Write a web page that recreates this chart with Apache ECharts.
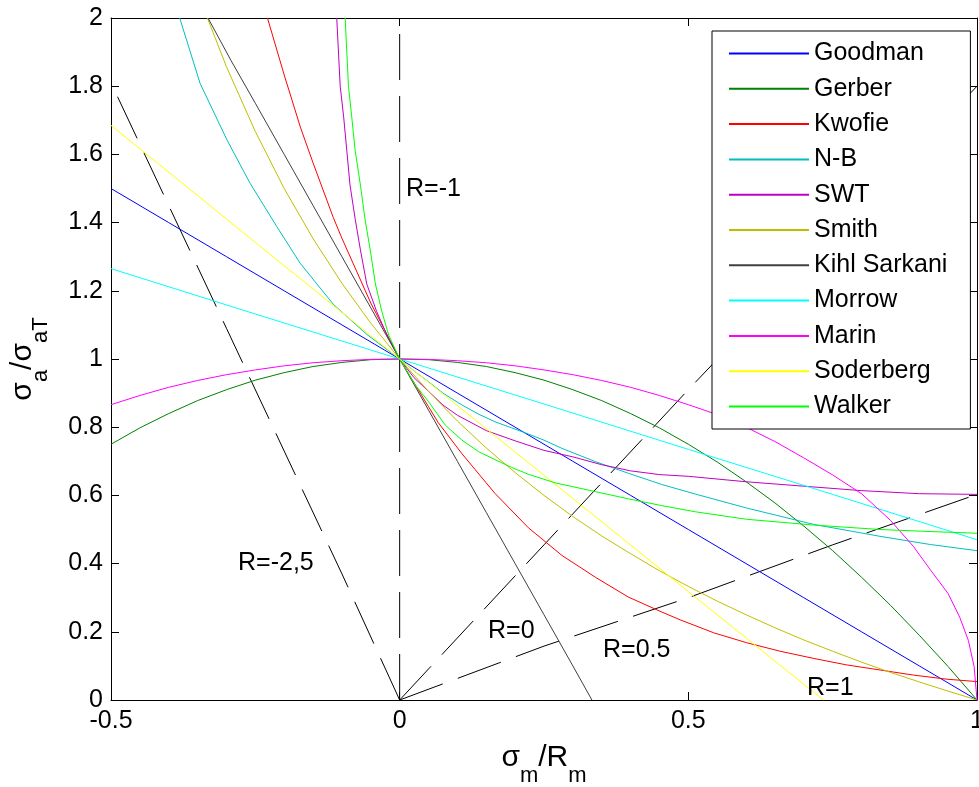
<!DOCTYPE html>
<html><head><meta charset="utf-8">
<script src="https://cdn.jsdelivr.net/npm/echarts@6/dist/echarts.min.js"></script>
<style>html,body{margin:0;padding:0;background:#fff}#c{width:979px;height:787px}</style>
</head><body><div id="c"></div>
<script>
// ---- data (x = sigma_m/R_m, y = sigma_a/sigma_aT) ----
const goodman = [[-0.5,1.5],[-0.4,1.4],[-0.3,1.3],[-0.2,1.2],[-0.1,1.1],[0,1],[0.1,0.9],[0.2,0.8],[0.3,0.7],[0.4,0.6],[0.5,0.5],[0.6,0.4],[0.7,0.3],[0.8,0.2],[0.9,0.1],[1,0]];
const gerber = [[-0.5,0.75],[-0.45,0.798],[-0.4,0.84],[-0.35,0.878],[-0.3,0.91],[-0.25,0.938],[-0.2,0.96],[-0.15,0.978],[-0.1,0.99],[-0.05,0.998],[0,1],[0.05,0.998],[0.1,0.99],[0.15,0.978],[0.2,0.96],[0.25,0.938],[0.3,0.91],[0.35,0.878],[0.4,0.84],[0.45,0.798],[0.5,0.75],[0.55,0.698],[0.6,0.64],[0.65,0.578],[0.7,0.51],[0.75,0.438],[0.8,0.36],[0.85,0.278],[0.9,0.19],[0.95,0.098],[1,0]];
const kwofie = [[-0.229,2.0],[-0.2,1.833],[-0.172,1.68],[-0.15,1.575],[-0.115,1.415],[-0.1,1.354],[-0.05,1.164],[0,1],[0.05,0.86],[0.067,0.813],[0.108,0.722],[0.165,0.606],[0.223,0.505],[0.281,0.424],[0.339,0.36],[0.396,0.302],[0.454,0.258],[0.486,0.235],[0.544,0.197],[0.601,0.168],[0.659,0.143],[0.717,0.122],[0.774,0.103],[0.832,0.088],[0.89,0.073],[0.948,0.061],[1,0.054]];
const nb = [[-0.381,2.0],[-0.3456,1.808],[-0.299,1.642],[-0.259,1.515],[-0.2127,1.388],[-0.1724,1.281],[-0.1147,1.16],[-0.0568,1.072],[0,1],[0.025,0.965],[0.05,0.933],[0.075,0.9],[0.108,0.865],[0.137,0.838],[0.165,0.816],[0.194,0.798],[0.223,0.78],[0.25,0.762],[0.281,0.738],[0.339,0.699],[0.396,0.665],[0.454,0.632],[0.512,0.604],[0.601,0.563],[0.717,0.515],[0.832,0.48],[0.919,0.456],[1,0.438]];
const swt = [[-0.109,2.0],[-0.103,1.8],[-0.097,1.71],[-0.0915,1.61],[-0.086,1.51],[-0.077,1.41],[-0.068,1.32],[-0.057,1.22],[-0.04,1.14],[-0.022,1.07],[0,1],[0.025,0.945],[0.05,0.905],[0.075,0.865],[0.1,0.835],[0.15,0.79],[0.2,0.76],[0.25,0.732],[0.3,0.713],[0.35,0.69],[0.4,0.672],[0.45,0.661],[0.5,0.656],[0.6,0.64],[0.7,0.627],[0.8,0.614],[0.9,0.605],[1,0.603]];
const smith = [[-0.333,2.0],[-0.3,1.857],[-0.25,1.667],[-0.2,1.5],[-0.15,1.353],[-0.1,1.222],[-0.05,1.105],[0,1],[0.05,0.905],[0.1,0.818],[0.15,0.739],[0.2,0.667],[0.25,0.6],[0.3,0.538],[0.35,0.481],[0.4,0.429],[0.45,0.379],[0.5,0.333],[0.55,0.29],[0.6,0.25],[0.65,0.212],[0.7,0.176],[0.75,0.143],[0.8,0.111],[0.85,0.081],[0.9,0.053],[0.95,0.026],[1,0]];
const kihlSarkani = [[-0.332,2.0],[-0.292,1.875],[-0.25,1.75],[-0.2,1.6],[-0.15,1.45],[-0.1,1.3],[-0.05,1.15],[0,1],[0.05,0.85],[0.1,0.7],[0.15,0.55],[0.2,0.4],[0.25,0.25],[0.3,0.1],[0.333,0]];
const morrow = [[-0.5,1.265],[-0.25,1.132],[0,1],[0.25,0.868],[0.5,0.735],[0.75,0.603],[1,0.47]];
const marin = [[-0.5,0.866],[-0.45,0.893],[-0.4,0.917],[-0.35,0.937],[-0.3,0.954],[-0.25,0.968],[-0.2,0.98],[-0.15,0.989],[-0.1,0.995],[-0.05,0.999],[0,1],[0.05,0.999],[0.1,0.995],[0.15,0.989],[0.2,0.98],[0.25,0.968],[0.3,0.954],[0.35,0.937],[0.4,0.917],[0.45,0.893],[0.5,0.866],[0.55,0.837],[0.6,0.8],[0.65,0.758],[0.7,0.71],[0.75,0.66],[0.8,0.605],[0.85,0.527],[0.89,0.45],[0.92,0.38],[0.95,0.312],[0.97,0.243],[0.985,0.175],[0.995,0.098],[1,0]];
const soderberg = [[-0.5,1.685],[-0.25,1.342],[0,1],[0.25,0.659],[0.5,0.318],[0.734,0]];
const walker = [[-0.0944,2.0],[-0.0887,1.8],[-0.083,1.71],[-0.077,1.61],[-0.068,1.51],[-0.06,1.41],[-0.051,1.32],[-0.042,1.22],[-0.031,1.14],[-0.019,1.07],[0,1],[0.027,0.924],[0.05,0.875],[0.079,0.806],[0.108,0.762],[0.137,0.728],[0.165,0.705],[0.194,0.682],[0.223,0.662],[0.269,0.637],[0.339,0.611],[0.396,0.59],[0.454,0.57],[0.512,0.552],[0.601,0.53],[0.717,0.513],[0.832,0.5],[0.919,0.494],[1,0.489]];

// stress-ratio reference lines
const rMinus1 = [[0,0],[0,2]];
const rMinus25 = [[0,0],[-0.1,0.37],[-0.2,0.73],[-0.3,1.09],[-0.4,1.45],[-0.5,1.81]];
const r0 = [[0,0],[0.25,0.455],[0.5,0.91],[0.75,1.355],[1,1.8]];
const r05 = [[0,0],[0.25,0.158],[0.5,0.3],[0.75,0.455],[1,0.603]];

const seriesNames = ['Goodman','Gerber','Kwofie','N-B','SWT','Smith','Kihl Sarkani','Morrow','Marin','Soderberg','Walker'];
const seriesData = [goodman, gerber, kwofie, nb, swt, smith, kihlSarkani, morrow, marin, soderberg, walker];
const seriesColors = ['#0000FF','#008000','#FF0000','#00BFBF','#BF00BF','#BFBF00','#404040','#00FFFF','#FF00FF','#FFFF00','#00FF00'];
const rLineNames = ['R=-1','R=-2,5','R=0','R=0.5'];
const rLineData = [rMinus1, rMinus25, r0, r05];
const rLabelTexts = ['R=-1','R=-2,5','R=0','R=0.5','R=1'];

const FONT = '"Liberation Sans", Arial, Helvetica, sans-serif';
const chart = echarts.init(document.getElementById('c'), null, {renderer:'canvas'});

const series = [];
rLineData.forEach((d,i)=>{
  series.push({name:rLineNames[i], type:'line', data:d, symbol:'none', silent:true, clip:true,
    lineStyle:{color:'#000', width:1, type:[46,16]}, z:2});
});
seriesData.forEach((d,i)=>{
  series.push({name:seriesNames[i], type:'line', data:d, symbol:'none', silent:true, clip:true,
    color:seriesColors[i], lineStyle:{color:seriesColors[i], width:1}, z:3});
});

const axisCommon = {
  axisLine:{show:true, onZero:false, lineStyle:{color:'#000', width:1}},
  axisTick:{show:true, inside:true, length:8, lineStyle:{color:'#000'}},
  splitLine:{show:false}
};

const rich = {
  m:{fontSize:30, lineHeight:30, padding:[0,0,14,0], fontFamily:FONT, fill:'#000'},
  s:{fontSize:22, lineHeight:22, padding:[22,0,0,0], fontFamily:FONT, fill:'#000'}
};

const rLabelPos = [[406,189],[238,563],[488,631],[603,650],[807,688]];
const graphics = rLabelTexts.map((t,i)=>({type:'text', x:rLabelPos[i][0], y:rLabelPos[i][1], z:20,
  style:{text:t, fontSize:25, fontFamily:FONT, fill:'#000', align:'left', verticalAlign:'middle'}}));
graphics.push({type:'text', x:544, y:764.6, z:20,
  style:{text:'{m|σ}{s|m}{m|/R}{s|m}', rich:rich, align:'center', verticalAlign:'middle'}});
graphics.push({type:'text', x:29.6, y:359, rotation:Math.PI/2, z:20,
  style:{text:'{m|σ}{s|a}{m|/σ}{s|aT}', rich:rich, align:'center', verticalAlign:'middle'}});

chart.setOption({
  animation:false,
  backgroundColor:'#fff',
  grid:{left:111, right:2, top:18, bottom:87, containLabel:false, outerBoundsMode:'none'},
  xAxis:[
    Object.assign({type:'value', min:-0.5, max:1, interval:0.5, position:'bottom',
      axisLabel:{show:true, color:'#000', fontSize:25, fontFamily:FONT, margin:9, showMaxLabel:true, showMinLabel:true}}, axisCommon),
    Object.assign({type:'value', min:-0.5, max:1, interval:0.5, position:'top', axisLabel:{show:false}}, axisCommon)
  ],
  yAxis:[
    Object.assign({type:'value', min:0, max:2, interval:0.2, position:'left',
      axisLabel:{show:true, color:'#000', fontSize:25, fontFamily:FONT, margin:8}}, axisCommon),
    Object.assign({type:'value', min:0, max:2, interval:0.2, position:'right', axisLabel:{show:false}}, axisCommon)
  ],
  legend:{data:seriesNames, orient:'vertical', left:712, top:31, padding:[10,23,10,17], itemGap:10.3,
    itemWidth:80, itemHeight:2, icon:'rect', borderColor:'#000', borderWidth:1, backgroundColor:'#fff',
    selectedMode:false, z:10,
    textStyle:{fontSize:25, lineHeight:25, fontFamily:FONT, color:'#000'}},
  series:series,
  graphic:graphics
});
</script></body></html>
